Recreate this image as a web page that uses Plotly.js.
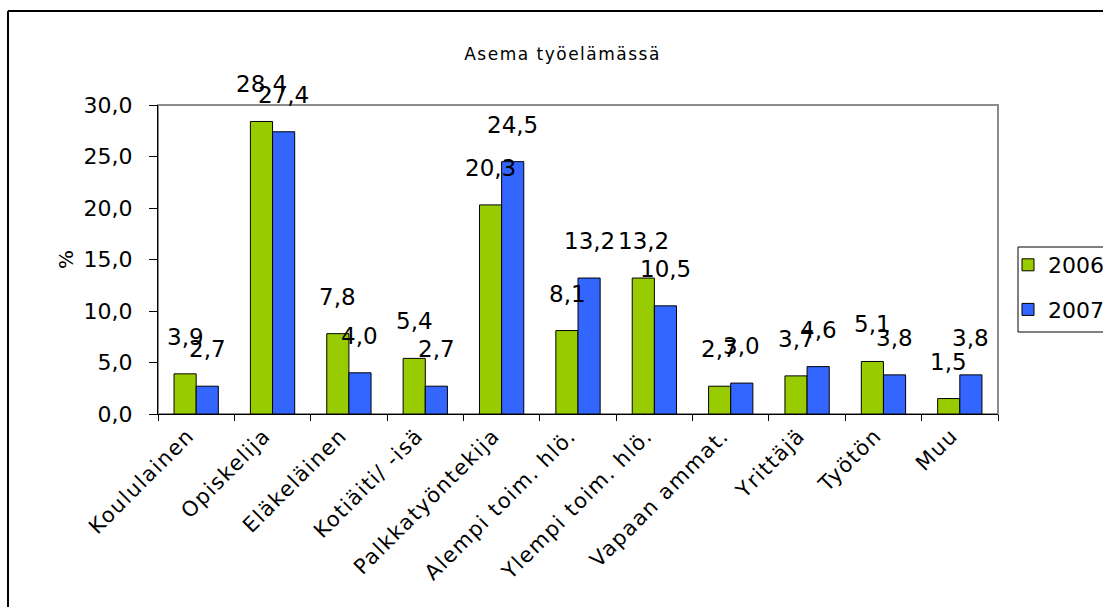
<!DOCTYPE html>
<html>
<head>
<meta charset="utf-8">
<script src="https://cdn.plot.ly/plotly-3.0.1.min.js"></script>
<style>
html,body{margin:0;padding:0;background:#fff;}
#chart{width:1103px;height:607px;}
#chart .gtitle{letter-spacing:1.5px;}
#chart .xtick text{letter-spacing:1.5px;}
</style>
</head>
<body>
<div id="chart"></div>
<script>
var categories = ["Koululainen","Opiskelija","Eläkeläinen","Kotiäiti/ -isä","Palkkatyöntekija","Alempi toim. hlö.","Ylempi toim. hlö.","Vapaan ammat.","Yrittäjä","Työtön","Muu"];
var values2006 = [3.9, 28.4, 7.8, 5.4, 20.3, 8.1, 13.2, 2.7, 3.7, 5.1, 1.5];
var values2007 = [2.7, 27.4, 4.0, 2.7, 24.5, 13.2, 10.5, 3.0, 4.6, 3.8, 3.8];
var seriesNames = ["2006","2007"];
var titleText = "Asema työelämässä";
var yTitle = "%";

var FONT = "DejaVu Sans, Verdana, sans-serif";
function fmt(v){ return v.toFixed(1).replace('.', ','); }

var traces = [
  {type:'bar', name:seriesNames[0], x:categories, y:values2006, legendgroup:'a',
   marker:{color:'#99CC00', line:{color:'#000', width:1}}},
  {type:'bar', name:seriesNames[1], x:categories, y:values2007, legendgroup:'b',
   marker:{color:'#3366FF', line:{color:'#000', width:1}}}
];

var annotations = [];
[values2006, values2007].forEach(function(vals, s){
  vals.forEach(function(v, i){
    annotations.push({x:categories[i], y:v, xref:'x', yref:'y', text:fmt(v), showarrow:false,
      xshift: s===0 ? -11 : 11, yshift:37, yanchor:'middle', xanchor:'center',
      font:{family:FONT, size:23, color:'#000'}});
  });
});

var L=158, R=998, T=105, B=414, W=1103, H=607;
function px(x){ return (x-L)/(R-L); }
function py(y){ return (B-y)/(B-T); }

var shapes = [
  {type:'rect', xref:'paper', yref:'paper', x0:0, x1:1, y0:0, y1:1, line:{color:'#8c8c8c', width:2}, layer:'below'},
  {type:'line', xref:'paper', yref:'paper', x0:px(8), x1:px(8), y0:py(H+5), y1:py(11), line:{color:'#000', width:2}},
  {type:'line', xref:'paper', yref:'paper', x0:px(8), x1:px(W+5), y0:py(11), y1:py(11), line:{color:'#000', width:2}},
  {type:'rect', xref:'paper', yref:'paper', x0:px(1018), x1:px(W+10), y0:py(332), y1:py(247), line:{color:'#000', width:1}, layer:'above'}
];

var layout = {
  width:W, height:H,
  margin:{l:L, r:W-R, t:T, b:H-B, autoexpand:false},
  paper_bgcolor:'#fff', plot_bgcolor:'#fff',
  separators:', ',
  font:{family:FONT, color:'#000'},
  title:{text:titleText, font:{family:FONT, size:17, color:'#000'}, x:0.51, xanchor:'center', y:1-54/H, yanchor:'middle', xref:'container', yref:'container'},
  barmode:'group', bargap:0.42, bargroupgap:0,
  showlegend:true,
  legend:{x:px(1008), xanchor:'left', y:py(244), yanchor:'top', bgcolor:'rgba(0,0,0,0)', borderwidth:0,
          font:{family:FONT, size:22, color:'#000'}, traceorder:'grouped', tracegroupgap:13, itemwidth:30},
  xaxis:{type:'category', tickson:'boundaries', ticks:'outside', ticklen:6, tickcolor:'#000', showline:true, linecolor:'#000', linewidth:1,
         showgrid:false, tickangle:-45, ticklabelshift:-8, tickfont:{family:FONT, size:21, color:'#000'}, automargin:false},
  yaxis:{range:[0,30], dtick:5, tickformat:'.1f', ticks:'outside', ticklen:8, tickcolor:'#000', showline:true, linecolor:'#000', linewidth:1,
         showgrid:false, zeroline:false, ticklabelstandoff:12, tickfont:{family:FONT, size:22, color:'#000'}, automargin:false,
         title:{text:yTitle, font:{family:FONT, size:20, color:'#000'}, standoff:4}},
  annotations:annotations,
  shapes:shapes
};

Plotly.newPlot('chart', traces, layout, {displayModeBar:false, staticPlot:true});
</script>
</body>
</html>
